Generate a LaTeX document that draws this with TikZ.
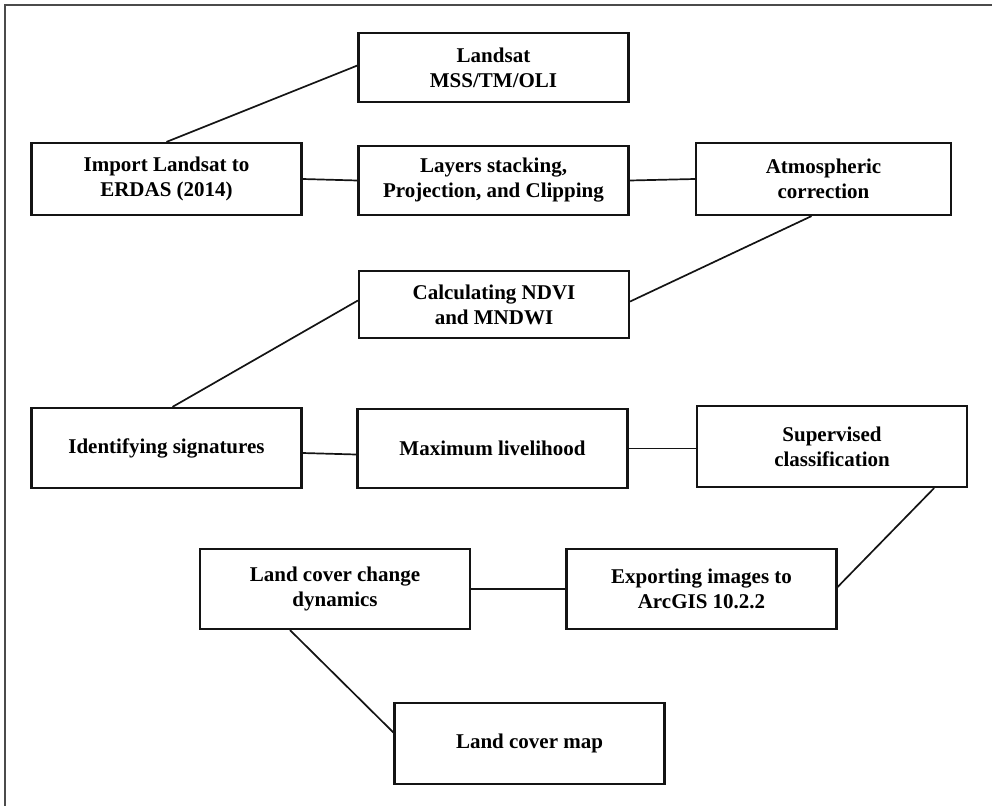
\documentclass[tikz,border=0pt]{standalone}
\usepackage{fontspec}
\setmainfont{Liberation Serif}
\usepackage{tikz}
\usetikzlibrary{positioning}
\definecolor{FrameGray}{RGB}{75,75,75}
\definecolor{BoxInk}{RGB}{20,20,20}

\begin{document}
\begin{tikzpicture}[x=1pt, y=-1pt,
    stepbox/.style={draw=BoxInk, line width=2.2pt, minimum width=270pt,
                    minimum height=#1, inner sep=0pt, align=center,
                    font=\bfseries\fontsize{21}{25}\selectfont},
    link/.style={draw=BoxInk, line width=1.7pt}]
  \useasboundingbox (0,0) rectangle (992,806);
  % outer frame (only top and left edges show)
  \draw[FrameGray, line width=1.6pt] (992,5) -- (5,5) -- (5,806);

  % first stage: data and preprocessing
  \node[stepbox=69pt]                    (lds) at (493.5,67.5) {Landsat\\MSS/TM/OLI};
  \node[stepbox=72pt]                    (imp) at (166.5,179)  {Import Landsat to\\ERDAS (2014)};
  \node[stepbox=69pt]                    (lay) at (493.5,180.5){Layers stacking,\\Projection, and Clipping};
  \node[stepbox=72pt, minimum width=255pt] (atm) at (823.5,179) {Atmospheric\\correction};
  \node[stepbox=67pt]                    (ndv) at (494,304.5)  {Calculating NDVI\\and MNDWI};

  % classification
  \node[stepbox=80pt]                    (sig) at (166.5,448)  {Identifying signatures};
  \node[stepbox=79pt]                    (mlh) at (492.5,448.5){Maximum livelihood};
  \node[stepbox=81pt]                    (sup) at (832,446.5)  {Supervised\\classification};

  % outputs
  \node[stepbox=80pt]                    (exp) at (701.5,589)  {Exporting images to\\ArcGIS 10.2.2};
  \node[stepbox=80pt]                    (lcc) at (335,589)    {Land cover change\\dynamics};
  \node[stepbox=81pt]                    (map) at (529.5,743.5){Land cover map};

  % connectors
  \draw[link] (imp.north) -- ([yshift=2pt]lds.west);
  \draw[link] (imp.east) -- (lay.west);
  \draw[link] (lay.east) -- (atm.west);
  \draw[link] ([xshift=-12pt]atm.south) -- ([yshift=3pt]ndv.east);
  \draw[link] ([yshift=4pt]ndv.west) -- ([xshift=6pt]sig.north);
  \draw[link] ([yshift=-5pt]sig.east) -- ([yshift=-6pt]mlh.west);
  \draw[link] (mlh.east) -- ([yshift=-2pt]sup.west);
  \draw[link] ([xshift=-34pt]sup.south east) -- ([yshift=2pt]exp.east);
  \draw[link] (exp.west) -- (lcc.east);
  \draw[link] ([xshift=-45pt]lcc.south) -- ([yshift=11pt]map.west);
\end{tikzpicture}
\end{document}
